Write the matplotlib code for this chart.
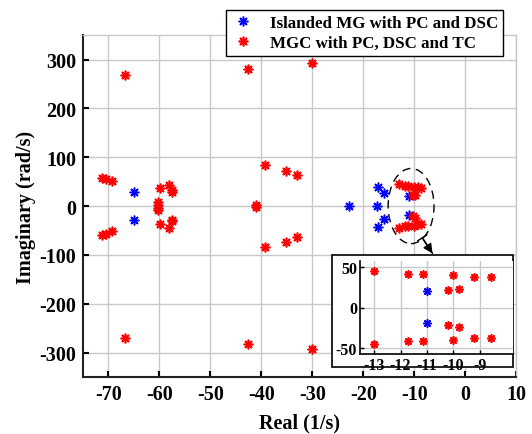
import matplotlib
matplotlib.use("Agg")
import matplotlib.pyplot as plt
from matplotlib.patches import Ellipse, Rectangle

plt.rcParams['font.family'] = ['Liberation Serif', 'DejaVu Serif']
plt.rcParams['font.weight'] = 'bold'
plt.rcParams['axes.labelweight'] = 'bold'
plt.rcParams['axes.unicode_minus'] = False

# eigenvalues, islanded MG with PC and DSC
blue_re = [-65.0, -65.0, -22.7, -17.1, -17.1, -15.9, -15.9, -17.3, -11.0, -11.0]
blue_im = [28, -29, 0, 40, -42, 26, -27, 0, 20, -19]

# eigenvalues, MGC with PC, DSC and TC
red_re = [-71.2, -71.2, -70.5, -70.5, -69.4, -69.4,
          -66.7, -66.7,
          -59.9, -59.9, -58.2, -58.2, -57.6, -57.6, -57.5, -57.5,
          -60.3, -60.3, -60.3, -60.3,
          -42.7, -42.7, -41.1, -41.1,
          -39.3, -39.3, -35.1, -35.1, -33.0, -33.0,
          -30.0, -30.0,
          -13.0, -13.0, -11.73, -11.73, -11.14, -11.14, -10.0, -10.0,
          -9.21, -9.21, -8.58, -8.58, -10.22, -10.22, -9.79, -9.79]
red_im = [58, -59, 56, -57, 51, -51,
          269, -271,
          37, -37, 43, -44, 29, -28, 32, -31,
          9, -9, 3, -3,
          281, -283, 2, -2,
          84, -84, 72.5, -74.5, 64, -64,
          292, -293,
          45, -45, 41, -41, 41, -41, 40, -40,
          38, -37, 37.5, -37.5, 22, -21, 23, -24]

xticks = [-70, -60, -50, -40, -30, -20, -10, 0, 10]
yticks = [-300, -200, -100, 0, 100, 200, 300]
inset_xticks = [-13, -12, -11, -10, -9]
inset_yticks = [-50, 0, 50]

star = (8, 2, 0)
grid_c = '#c8c8c8'

fig = plt.figure(figsize=(5.32, 4.35), dpi=100)
ax = fig.add_axes([0.156, 0.131, 0.814, 0.786])

ax.plot(blue_re, blue_im, linestyle='none', marker=star, color='blue',
        markersize=7, markeredgewidth=1.1, label='Islanded MG with PC and DSC')
ax.plot(red_re, red_im, linestyle='none', marker=star, color='red',
        markersize=7, markeredgewidth=1.2, label='MGC with PC, DSC and TC')

ax.set_xlim(-75, 10)
ax.set_ylim(-350, 350)
ax.set_xticks(xticks)
ax.set_yticks(yticks)
ax.grid(True, color=grid_c, linewidth=1)
ax.set_axisbelow(True)
ax.tick_params(direction='in', length=4, width=1.5, labelsize=14.5, pad=5)
for s in ['left', 'bottom']:
    ax.spines[s].set_linewidth(1.5)
    ax.spines[s].set_color('#222222')
for s in ['top', 'right']:
    ax.spines[s].set_color(grid_c)
    ax.spines[s].set_linewidth(1)
ax.set_xlabel('Real (1/s)', fontsize=14.5, labelpad=6)
ax.set_ylabel('Imaginary (rad/s)', fontsize=14.5, labelpad=2)

# dashed ellipse around the dominant cluster
ax.add_patch(Ellipse((-10.6, 0), 9, 154, fill=False, edgecolor='black',
                     linestyle=(0, (6, 4)), linewidth=1))
ax.annotate('', xy=(-6.4, -97), xytext=(-8.4, -65),
            arrowprops=dict(arrowstyle='-|>', color='black', lw=1,
                            mutation_scale=14, shrinkA=0, shrinkB=0))
ax.annotate('', xy=(-6.4, -97), xytext=(-8.4, -65),
            arrowprops=dict(arrowstyle=']-, widthA=0.4, lengthA=0', color='black',
                            lw=1, shrinkA=0, shrinkB=0))

fig.legend(loc='upper right', bbox_to_anchor=(503 / 532, 1 - 11 / 435),
           fontsize=12.2, frameon=True, fancybox=False, edgecolor='black',
           framealpha=1, borderpad=0.3, labelspacing=0.2, handletextpad=0.8,
           handlelength=1.5, borderaxespad=0).get_frame().set_linewidth(1)

# zoomed view
fig.add_artist(Rectangle((332 / 532, 1 - 368 / 435), 181 / 532, 112 / 435,
                         transform=fig.transFigure, facecolor='white',
                         edgecolor='black', linewidth=1.2, zorder=1))
ins = fig.add_axes([360 / 532, 1 - 355 / 435, 153 / 532, 93 / 435], zorder=2)
ins.plot(blue_re, blue_im, linestyle='none', marker=star, color='blue',
         markersize=6, markeredgewidth=1.1)
ins.plot(red_re, red_im, linestyle='none', marker=star, color='red',
         markersize=6, markeredgewidth=1.2)
ins.set_xlim(-13.53, -7.75)
ins.set_ylim(-57, 57)
ins.set_xticks(inset_xticks)
ins.set_yticks(inset_yticks)
ins.grid(True, color=grid_c, linewidth=1)
ins.set_axisbelow(True)
ins.tick_params(direction='in', length=3, width=1, labelsize=11.5, pad=2)
for s in ['left', 'bottom']:
    ins.spines[s].set_linewidth(1.2)
for s in ['top', 'right']:
    ins.spines[s].set_visible(False)

fig.savefig('out.png', dpi=100)
